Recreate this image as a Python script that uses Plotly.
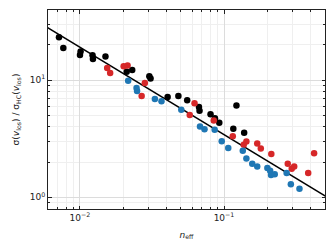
import numpy as np
import plotly.graph_objects as go

black_n = [0.00715, 0.00766, 0.0101, 0.0100, 0.01222, 0.0123, 0.01503, 0.0211, 0.02305, 0.0303, 0.0309,
           0.0406, 0.0482, 0.0555, 0.0670, 0.0676, 0.0806, 0.0865, 0.0927, 0.122, 0.116, 0.138]
black_s = [23.2, 18.8, 17.5, 16.4, 16.3, 15.1, 15.9, 11.8, 12.2, 10.8, 10.3,
           7.17, 7.31, 6.73, 5.88, 5.47, 5.11, 4.73, 4.33, 6.07, 3.85, 3.55]

red_n = [0.01545, 0.0162, 0.0201, 0.0214, 0.0282, 0.0268, 0.0624, 0.0578, 0.0849, 0.115, 0.137,
         0.143, 0.170, 0.180, 0.213, 0.277, 0.295, 0.307, 0.384, 0.422]
red_s = [12.7, 11.5, 13.1, 13.3, 9.43, 7.31, 6.34, 5.03, 4.51, 3.31, 2.81,
         2.99, 2.88, 2.61, 2.34, 1.93, 1.75, 1.83, 1.61, 2.38]

blue_n = [0.0216, 0.0247, 0.0249, 0.0331, 0.0368, 0.0505, 0.0681, 0.0732, 0.0861, 0.0964, 0.107,
          0.135, 0.143, 0.157, 0.170, 0.200, 0.209, 0.212, 0.225, 0.272, 0.291, 0.334]
blue_s = [9.87, 8.55, 8.07, 6.89, 6.59, 5.57, 4.01, 3.81, 3.76, 3.01, 2.63,
          2.50, 2.14, 1.93, 1.83, 1.78, 1.68, 1.55, 1.57, 1.61, 1.29, 1.18]

fit_amp = 0.614
fit_slope = -0.746
fit_n = [0.005, 0.7]

x_tickvals = [0.01, 0.1]
x_ticktext = ["10<sup>\u22122</sup>", "10<sup>\u22121</sup>"]
y_tickvals = [1, 10]
y_ticktext = ["10<sup>0</sup>", "10<sup>1</sup>"]
x_minor = [m * 10.0 ** k for k in (-3, -2, -1) for m in range(2, 10)]
y_minor = [m * 10.0 ** k for k in (-1, 0, 1) for m in range(2, 10)]

fig = go.Figure()
fn = np.array(fit_n)
fig.add_trace(go.Scatter(x=fn, y=fit_amp * fn ** fit_slope, mode="lines",
                         line=dict(color="black", width=1.5), showlegend=False))
for xs, ys, c in [(black_n, black_s, "black"), (red_n, red_s, "#d62728"), (blue_n, blue_s, "#1f77b4")]:
    fig.add_trace(go.Scatter(x=xs, y=ys, mode="markers",
                             marker=dict(color=c, size=6.5, line=dict(width=0)), showlegend=False))

def axis_common(minor_vals):
    return dict(
        type="log", showline=True, linecolor="#222", linewidth=1, mirror="allticks",
        ticks="inside", ticklen=3.5, tickwidth=0.8, tickcolor="#222",
        showgrid=True, gridcolor="#dcdcdc", gridwidth=0.8, zeroline=False, automargin=False,
        tickfont=dict(family="DejaVu Sans", size=9, color="#222"),
        minor=dict(tickvals=minor_vals, ticks="inside", ticklen=2, tickwidth=0.6, tickcolor="#222",
                   showgrid=True, gridcolor="#efefef", gridwidth=0.6),
    )

fig.update_xaxes(**axis_common(x_minor), range=[-2.222, -0.299], tickvals=x_tickvals, ticktext=x_ticktext,
                 title=dict(text="<i>n</i><sub>eff</sub>", font=dict(family="DejaVu Sans", size=9, color="#222"),
                            standoff=9))
fig.update_yaxes(**axis_common(y_minor), range=[-0.1, 1.598], tickvals=y_tickvals, ticktext=y_ticktext,
                 title=dict(text="\u03c3(<i>v</i><sub>los</sub>) / \u03c3<sub>HC</sub>(<i>v</i><sub>los</sub>)",
                            font=dict(family="DejaVu Sans", size=9, color="#222"), standoff=8))

fig.update_layout(width=327, height=242, margin=dict(l=40, r=10, t=2, b=41),
                  plot_bgcolor="white", paper_bgcolor="white")
fig.write_html("out.html")
